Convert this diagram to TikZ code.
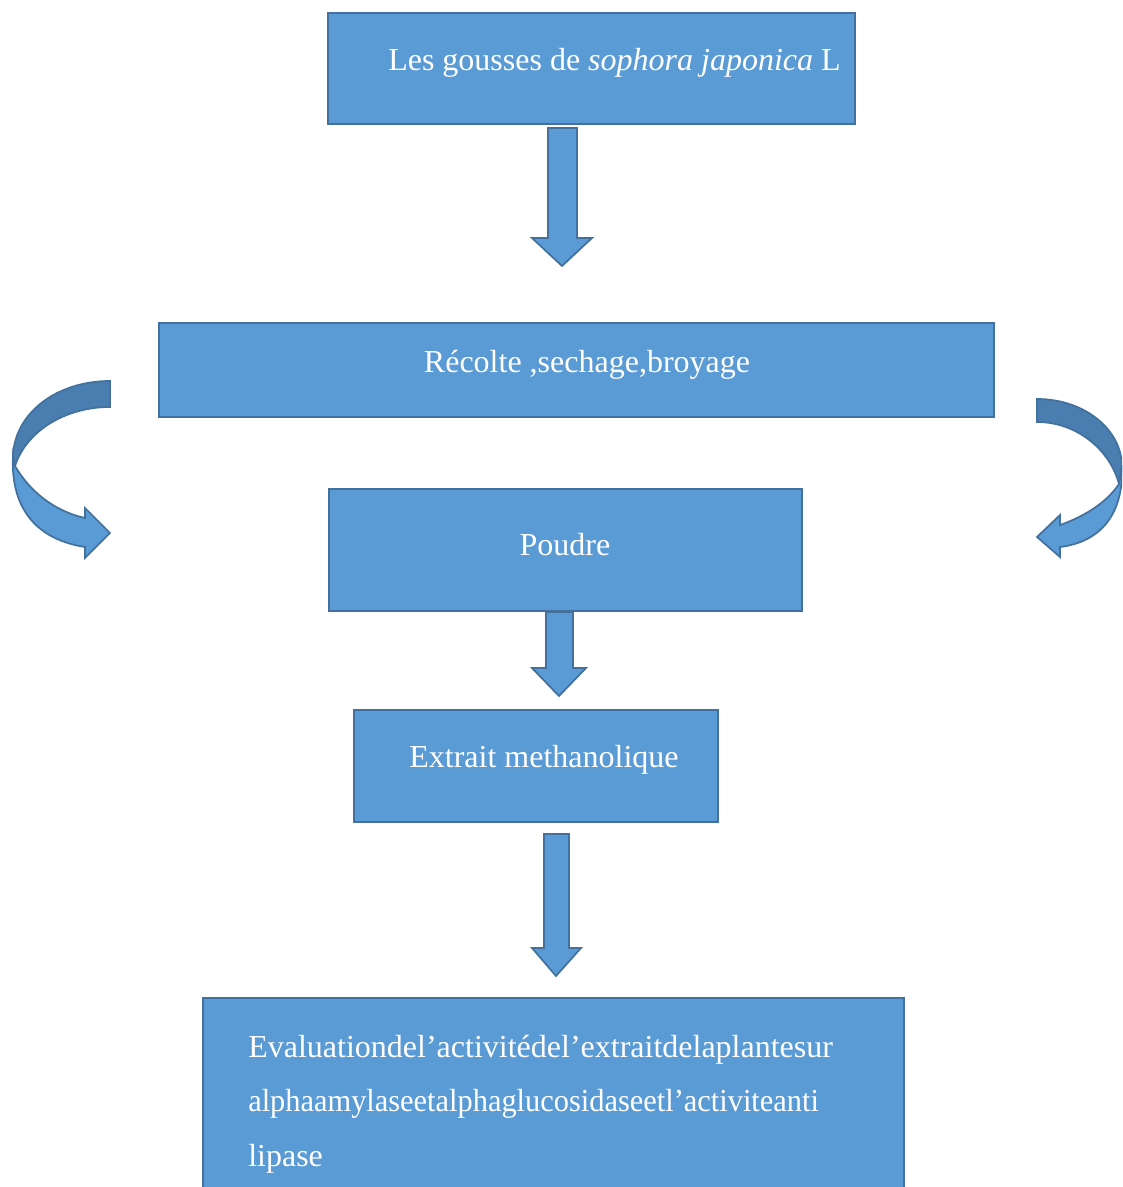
\documentclass[tikz,border=0pt]{standalone}
\usepackage{fontspec}
\setmainfont{Liberation Serif}
\begin{document}
\begin{tikzpicture}[x=0.75pt,y=-0.75pt,
  box/.style={draw=bordc,fill=boxc,line width=1.5pt},
  blk/.style={draw=bordc,fill=boxc,line width=1.3pt,line join=miter},
  blkdark/.style={draw=bordc,fill=darkc,line width=1.3pt},
  lbl/.style={text=white,font=\fontsize{24}{28}\selectfont,inner sep=0pt}]
\definecolor{boxc}{HTML}{5B9BD5}
\definecolor{bordc}{HTML}{41719C}
\definecolor{darkc}{HTML}{4A7EB1}
\useasboundingbox (0,0) rectangle (1122,1187);
\clip (0,0) rectangle (1122,1187);
\fill[white] (0,0) rectangle (1122,1187);
% boxes
\draw[box] (328,13) rectangle (855,124);
\draw[box] (159,323) rectangle (994,417);
\draw[box] (329,489) rectangle (802,611);
\draw[box] (354,710) rectangle (718,822);
\draw[box] (203,998) rectangle (904,1195);
% labels
\node[lbl,anchor=west] (t1) at (388,63) {Les gousses de \textit{sophora japonica} L};
\node[lbl] (t2) at (587,365) {Récolte ,sechage,broyage};
\node[lbl] (t3) at (565,545) {Poudre};
\node[lbl] (t4) at (544,760) {Extrait methanolique};
\node[lbl,anchor=west,align=left,font=\fontsize{24}{41}\selectfont] (t5) at (248,1104)
  {Evaluationdel’activitédel’extraitdelaplantesur\\\scalebox{0.95}[1]{alphaamylaseetalphaglucosidaseetl’activiteanti}\\lipase};
% block arrows
\draw[blk] (548,128) -- (577,128) -- (577,238) -- (592,238) -- (562,266) -- (532,238) -- (548,238) -- cycle;
\draw[blk] (546,612) -- (573,612) -- (573,668) -- (586,668) -- (559,696) -- (532,668) -- (546,668) -- cycle;
\draw[blk] (544,834) -- (569,834) -- (569,948) -- (581,948) -- (556,976) -- (532,948) -- (544,948) -- cycle;
% left curved arrow
\draw[blkdark] (110,381) .. controls (55,381) and (13,415) .. (13,458)
  -- (15,466) .. controls (26,432) and (64,407) .. (110,407) -- cycle;
\draw[blk] (13,455) .. controls (10,512) and (40,540) .. (85,547) -- (85,558) -- (110,533) -- (85,508) -- (85,518)
  .. controls (58,512) and (32,495) .. (15,466) -- cycle;
% right curved arrow
\draw[blkdark] (1037,399) .. controls (1085,399) and (1122,430) .. (1122,467)
  -- (1119,484) .. controls (1110,450) and (1077,422) .. (1037,422) -- cycle;
\draw[blk] (1122,465) .. controls (1124,515) and (1100,542) .. (1060,547) -- (1060,557) -- (1037,537) -- (1060,515) -- (1060,525)
  .. controls (1080,518) and (1105,505) .. (1119,484) -- cycle;
\end{tikzpicture}
\end{document}
